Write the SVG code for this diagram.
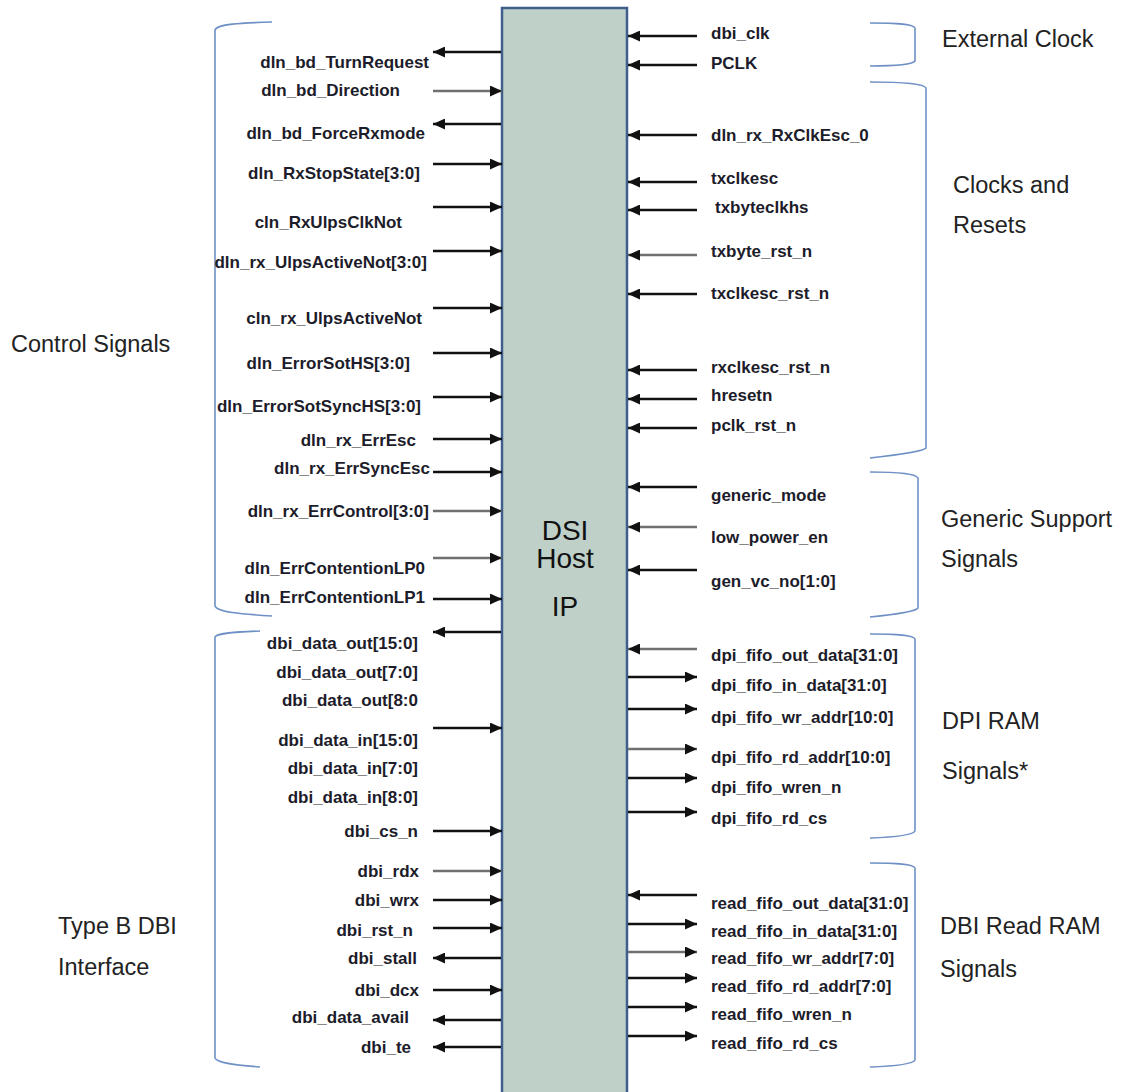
<svg xmlns="http://www.w3.org/2000/svg" width="1123" height="1092" viewBox="0 0 1123 1092">
<style>
.sl{font-family:"Liberation Sans",Arial,sans-serif;font-weight:bold;font-size:17px;fill:#1c1c2a}
.sr{font-family:"Liberation Sans",Arial,sans-serif;font-weight:bold;font-size:17px;fill:#1c1c2a}
.gl{font-family:"Liberation Sans",Arial,sans-serif;font-size:23.5px;fill:#222}
.ct{font-family:"Liberation Sans",Arial,sans-serif;font-size:28px;fill:#111;text-anchor:middle}
.e{text-anchor:end}
.br{fill:none;stroke:#6f90c6;stroke-width:1.6}
.a{stroke:#111;stroke-width:2.4;marker-end:url(#ah)}
.g{stroke:#707070;stroke-width:2.6;marker-end:url(#ah)}
</style>
<defs>
<marker id="ah" markerUnits="userSpaceOnUse" markerWidth="12" markerHeight="11" refX="12" refY="5.5" orient="auto">
<path d="M0,0 L12,5.5 L0,11 z" fill="#111"/>
</marker>
</defs>
<rect width="1123" height="1092" fill="#fff"/>
<g id="block">
<rect x="502" y="8" width="125" height="1095" fill="#bed0c8" stroke="#3e5f8c" stroke-width="2.5"/>
<text class="ct" x="565" y="540">DSI</text>
<text class="ct" x="565" y="568">Host</text>
<text class="ct" x="565" y="616">IP</text>
</g>
<g id="brackets">
<path id="br-control" class="br" d="M272,22 C240,23 217,24 215,30 L215,606 C217,612 240,614 272,616"/>
<path id="br-typeb" class="br" d="M260,631 C235,632 217,633 215,637 L215,1058 C217,1063 235,1065 260,1067"/>
<path id="br-ext" class="br" d="M870,23 C900,23 913,24 915,28 L915,61 C913,64 900,66 870,66"/>
<path id="br-clk" class="br" d="M870,82 C905,82 924,84 926,88 L926,448 C924,451 905,454 870,458"/>
<path id="br-gen" class="br" d="M870,472 C900,472 916,474 918,478 L918,608 C916,611 900,614 870,617"/>
<path id="br-dpi" class="br" d="M870,634 C898,634 913,635 915,639 L915,831 C913,835 898,837 870,838"/>
<path id="br-dbi" class="br" d="M870,863 C898,863 913,864 915,868 L915,1060 C913,1064 898,1066 870,1067"/>
</g>
<g id="group-labels">
<text class="gl" x="11" y="352">Control Signals</text>
<text class="gl" x="58" y="934">Type B DBI</text>
<text class="gl" x="58" y="975">Interface</text>
<text class="gl" x="942" y="47">External Clock</text>
<text class="gl" x="953" y="193">Clocks and</text>
<text class="gl" x="953" y="233">Resets</text>
<text class="gl" x="941" y="527">Generic Support</text>
<text class="gl" x="941" y="567">Signals</text>
<text class="gl" x="942" y="729">DPI RAM</text>
<text class="gl" x="942" y="779">Signals*</text>
<text class="gl" x="940" y="934">DBI Read RAM</text>
<text class="gl" x="940" y="977">Signals</text>
</g>
<g id="connectors">
<line class="a" x1="501" y1="52" x2="433" y2="52"/>
<line class="g" x1="433" y1="91" x2="502" y2="91"/>
<line class="a" x1="501" y1="124" x2="433" y2="124"/>
<line class="a" x1="433" y1="164" x2="502" y2="164"/>
<line class="a" x1="433" y1="207" x2="502" y2="207"/>
<line class="a" x1="433" y1="251" x2="502" y2="251"/>
<line class="a" x1="433" y1="308" x2="502" y2="308"/>
<line class="a" x1="433" y1="353" x2="502" y2="353"/>
<line class="a" x1="433" y1="397" x2="502" y2="397"/>
<line class="a" x1="433" y1="439" x2="502" y2="439"/>
<line class="a" x1="433" y1="472" x2="502" y2="472"/>
<line class="g" x1="433" y1="511" x2="502" y2="511"/>
<line class="g" x1="433" y1="558" x2="502" y2="558"/>
<line class="a" x1="433" y1="599" x2="502" y2="599"/>
<line class="a" x1="501" y1="632" x2="433" y2="632"/>
<line class="a" x1="433" y1="728" x2="502" y2="728"/>
<line class="a" x1="433" y1="831" x2="502" y2="831"/>
<line class="g" x1="433" y1="871" x2="502" y2="871"/>
<line class="a" x1="433" y1="900" x2="502" y2="900"/>
<line class="a" x1="433" y1="928" x2="502" y2="928"/>
<line class="a" x1="501" y1="958" x2="433" y2="958"/>
<line class="a" x1="433" y1="990" x2="502" y2="990"/>
<line class="a" x1="501" y1="1020" x2="433" y2="1020"/>
<line class="a" x1="501" y1="1047" x2="433" y2="1047"/>
<line class="a" x1="697" y1="36" x2="628" y2="36"/>
<line class="a" x1="697" y1="65" x2="628" y2="65"/>
<line class="a" x1="697" y1="135" x2="628" y2="135"/>
<line class="a" x1="697" y1="182" x2="628" y2="182"/>
<line class="a" x1="697" y1="210" x2="628" y2="210"/>
<line class="g" x1="697" y1="255" x2="628" y2="255"/>
<line class="a" x1="697" y1="294" x2="628" y2="294"/>
<line class="a" x1="697" y1="370" x2="628" y2="370"/>
<line class="a" x1="697" y1="399" x2="628" y2="399"/>
<line class="a" x1="697" y1="428" x2="628" y2="428"/>
<line class="a" x1="697" y1="487" x2="628" y2="487"/>
<line class="g" x1="697" y1="527" x2="628" y2="527"/>
<line class="a" x1="697" y1="570" x2="628" y2="570"/>
<line class="g" x1="697" y1="649" x2="628" y2="649"/>
<line class="a" x1="628" y1="677" x2="697" y2="677"/>
<line class="a" x1="628" y1="709" x2="697" y2="709"/>
<line class="g" x1="628" y1="749" x2="697" y2="749"/>
<line class="a" x1="628" y1="778" x2="697" y2="778"/>
<line class="a" x1="628" y1="812" x2="697" y2="812"/>
<line class="a" x1="697" y1="895" x2="628" y2="895"/>
<line class="a" x1="628" y1="924" x2="697" y2="924"/>
<line class="g" x1="628" y1="952" x2="697" y2="952"/>
<line class="a" x1="628" y1="978" x2="697" y2="978"/>
<line class="a" x1="628" y1="1007" x2="697" y2="1007"/>
<line class="a" x1="628" y1="1036" x2="697" y2="1036"/>
</g>
<g id="left-signals">
<g id="s-l1"><text class="sl e" x="429" y="68">dln_bd_TurnRequest</text></g>
<g id="s-l2"><text class="sl e" x="400" y="96">dln_bd_Direction</text></g>
<g id="s-l3"><text class="sl e" x="425" y="139">dln_bd_ForceRxmode</text></g>
<g id="s-l4"><text class="sl e" x="420" y="179">dln_RxStopState[3:0]</text></g>
<g id="s-l5"><text class="sl e" x="402" y="228">cln_RxUlpsClkNot</text></g>
<g id="s-l6"><text class="sl e" x="427" y="268">dln_rx_UlpsActiveNot[3:0]</text></g>
<g id="s-l7"><text class="sl e" x="422" y="324">cln_rx_UlpsActiveNot</text></g>
<g id="s-l8"><text class="sl e" x="410" y="369">dln_ErrorSotHS[3:0]</text></g>
<g id="s-l9"><text class="sl e" x="421" y="412">dln_ErrorSotSyncHS[3:0]</text></g>
<g id="s-l10"><text class="sl e" x="416" y="446">dln_rx_ErrEsc</text></g>
<g id="s-l11"><text class="sl e" x="430" y="474">dln_rx_ErrSyncEsc</text></g>
<g id="s-l12"><text class="sl e" x="429" y="517">dln_rx_ErrControl[3:0]</text></g>
<g id="s-l13"><text class="sl e" x="425" y="574">dln_ErrContentionLP0</text></g>
<g id="s-l14"><text class="sl e" x="425" y="603">dln_ErrContentionLP1</text></g>
<g id="s-l15"><text class="sl e" x="418" y="649">dbi_data_out[15:0]</text></g>
<g id="s-l16"><text class="sl e" x="418" y="678">dbi_data_out[7:0]</text></g>
<g id="s-l17"><text class="sl e" x="418" y="706">dbi_data_out[8:0</text></g>
<g id="s-l18"><text class="sl e" x="418" y="746">dbi_data_in[15:0]</text></g>
<g id="s-l19"><text class="sl e" x="418" y="774">dbi_data_in[7:0]</text></g>
<g id="s-l20"><text class="sl e" x="418" y="803">dbi_data_in[8:0]</text></g>
<g id="s-l21"><text class="sl e" x="418" y="837">dbi_cs_n</text></g>
<g id="s-l22"><text class="sl e" x="419" y="877">dbi_rdx</text></g>
<g id="s-l23"><text class="sl e" x="419" y="906">dbi_wrx</text></g>
<g id="s-l24"><text class="sl e" x="413" y="936">dbi_rst_n</text></g>
<g id="s-l25"><text class="sl e" x="417" y="964">dbi_stall</text></g>
<g id="s-l26"><text class="sl e" x="419" y="996">dbi_dcx</text></g>
<g id="s-l27"><text class="sl e" x="409" y="1023">dbi_data_avail</text></g>
<g id="s-l28"><text class="sl e" x="411" y="1053">dbi_te</text></g>
</g>
<g id="right-signals">
<g id="s-r1"><text class="sr" x="711" y="39">dbi_clk</text></g>
<g id="s-r2"><text class="sr" x="711" y="69">PCLK</text></g>
<g id="s-r3"><text class="sr" x="711" y="141">dln_rx_RxClkEsc_0</text></g>
<g id="s-r4"><text class="sr" x="711" y="184">txclkesc</text></g>
<g id="s-r5"><text class="sr" x="715" y="213">txbyteclkhs</text></g>
<g id="s-r6"><text class="sr" x="711" y="257">txbyte_rst_n</text></g>
<g id="s-r7"><text class="sr" x="711" y="299">txclkesc_rst_n</text></g>
<g id="s-r8"><text class="sr" x="711" y="373">rxclkesc_rst_n</text></g>
<g id="s-r9"><text class="sr" x="711" y="401">hresetn</text></g>
<g id="s-r10"><text class="sr" x="711" y="431">pclk_rst_n</text></g>
<g id="s-r11"><text class="sr" x="711" y="501">generic_mode</text></g>
<g id="s-r12"><text class="sr" x="711" y="543">low_power_en</text></g>
<g id="s-r13"><text class="sr" x="711" y="587">gen_vc_no[1:0]</text></g>
<g id="s-r14"><text class="sr" x="711" y="661">dpi_fifo_out_data[31:0]</text></g>
<g id="s-r15"><text class="sr" x="711" y="691">dpi_fifo_in_data[31:0]</text></g>
<g id="s-r16"><text class="sr" x="711" y="723">dpi_fifo_wr_addr[10:0]</text></g>
<g id="s-r17"><text class="sr" x="711" y="763">dpi_fifo_rd_addr[10:0]</text></g>
<g id="s-r18"><text class="sr" x="711" y="793">dpi_fifo_wren_n</text></g>
<g id="s-r19"><text class="sr" x="711" y="824">dpi_fifo_rd_cs</text></g>
<g id="s-r20"><text class="sr" x="711" y="909">read_fifo_out_data[31:0]</text></g>
<g id="s-r21"><text class="sr" x="711" y="937">read_fifo_in_data[31:0]</text></g>
<g id="s-r22"><text class="sr" x="711" y="964">read_fifo_wr_addr[7:0]</text></g>
<g id="s-r23"><text class="sr" x="711" y="992">read_fifo_rd_addr[7:0]</text></g>
<g id="s-r24"><text class="sr" x="711" y="1020">read_fifo_wren_n</text></g>
<g id="s-r25"><text class="sr" x="711" y="1049">read_fifo_rd_cs</text></g>
</g>
</svg>
